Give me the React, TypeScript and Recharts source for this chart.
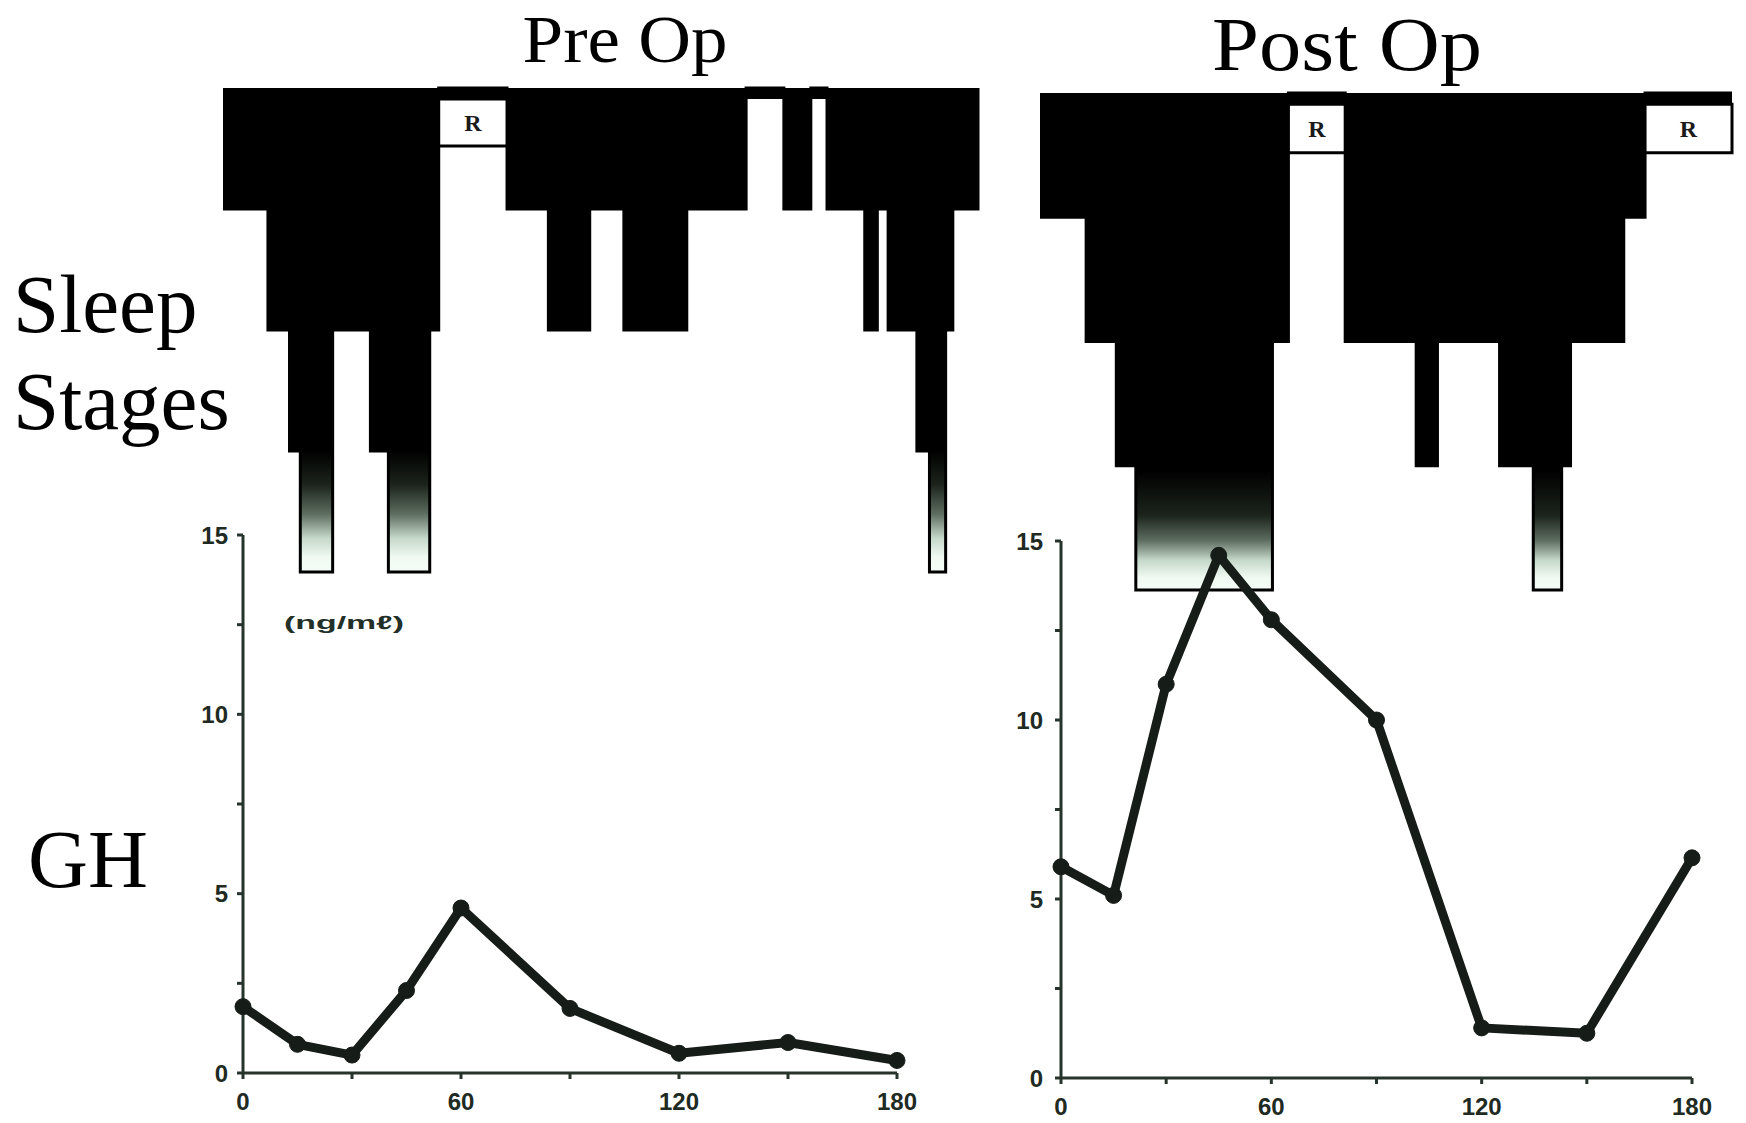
import React from 'react';
import { ComposedChart, LineChart, Line, Area, XAxis, YAxis, ReferenceArea } from 'recharts';

// ---- GH (growth hormone) samples, ng/ml ----
const ghTimes = [0, 15, 30, 45, 60, 90, 120, 150, 180];
const preGH = [1.85, 0.8, 0.5, 2.3, 4.6, 1.8, 0.55, 0.85, 0.35];
const postGH = [5.9, 5.1, 11.0, 14.6, 12.8, 10.0, 1.4, 1.25, 6.15];
const xTicks = [0, 30, 60, 90, 120, 150, 180];
const xTickLabels = [0, 60, 120, 180];
const yTicks = [0, 2.5, 5, 7.5, 10, 12.5, 15];
const yTickLabels = [0, 5, 10, 15];

// ---- Sleep stage hypnograms (minutes from start of record, stage code) ----
const preStageTimes = [0, 12.5, 18.5, 21.5, 30.5, 41, 46, 57.5, 60, 79, 90.5, 102, 111.5, 129, 145.5, 156, 163.5, 168, 178.5, 182, 185, 193, 196.5, 201, 203];
const preStages = ['1', '2', '3', '4', '2', '3', '4', '2', 'R', '1', '2', '1', '2', '1', 'W', '1', 'W', '1', '2', '1', '2', '3', '4', '2', '1'];
const preEnd = 210;

const postStageTimes = [0, 13, 21.5, 27, 65.5, 70, 86, 106, 112, 129.5, 139, 147, 149.5, 164.5, 170.5];
const postStages = ['1', '2', '3', '4', '2', 'R', '2', '3', '2', '3', '4', '3', '2', '1', 'R'];
const postEnd = 195;

const stageDepth: Record<string, number> = { W: 0, R: 0, '1': 1, '2': 2, '3': 3, '4': 4 };
const STRIP = 0.09;
const REM_DEPTH = 0.48;

const AXIS = '#26342c';
const INK = '#161c17';
const TICK_FONT = 'Liberation Sans, Arial, sans-serif';
const SERIF = 'Liberation Serif, Times New Roman, serif';

function buildRows(times: number[], stages: string[], end: number) {
  const rows = times.map((t, i) => ({ t, depth: stageDepth[stages[i]] }));
  rows.push({ t: end, depth: 0 });
  return rows;
}

function remSegments(times: number[], stages: string[], end: number) {
  const segs: { x1: number; x2: number }[] = [];
  stages.forEach((s, i) => {
    if (s === 'R') segs.push({ x1: times[i], x2: i + 1 < times.length ? times[i + 1] : end });
  });
  return segs;
}

type Stop = [number, string];

function Hypnogram(props: {
  left: number; top: number; width: number; height: number;
  times: number[]; stages: string[]; end: number; gradId: string; stops: Stop[];
}) {
  const { left, top, width, height, times, stages, end, gradId, stops } = props;
  const rows = buildRows(times, stages, end);
  const rems = remSegments(times, stages, end);
  return (
    <div style={{ position: 'absolute', left, top }}>
      <ComposedChart width={width} height={height} data={rows} margin={{ top: 4, right: 4, bottom: 4, left: 4 }}>
        <defs>
          <linearGradient id={gradId} x1="0" y1="0" x2="0" y2="1">
            {stops.map(([o, c], i) => (
              <stop key={i} offset={o} stopColor={c} stopOpacity={1} />
            ))}
          </linearGradient>
        </defs>
        <XAxis dataKey="t" type="number" domain={[0, end]} hide />
        <YAxis type="number" domain={[0, 4]} reversed hide />
        <Area
          type="stepAfter"
          dataKey="depth"
          baseValue={0}
          fill={`url(#${gradId})`}
          fillOpacity={1}
          stroke="#000"
          strokeWidth={3}
          dot={false}
          activeDot={false}
          isAnimationActive={false}
        />
        <ReferenceArea y1={0} y2={STRIP} fill="#000" fillOpacity={1} stroke="none" ifOverflow="visible" />
        {rems.map((r, i) => (
          <ReferenceArea
            key={i}
            x1={r.x1}
            x2={r.x2}
            y1={STRIP}
            y2={REM_DEPTH}
            fill="#ffffff"
            fillOpacity={1}
            stroke="#000"
            strokeWidth={3}
            ifOverflow="visible"
            label={{ value: 'R', position: 'center', fill: '#1a1a1a', fontSize: 24, fontWeight: 'bold', fontFamily: SERIF }}
          />
        ))}
      </ComposedChart>
    </div>
  );
}

function GHChart(props: { left: number; top: number; width: number; height: number; xAxisHeight: number; values: number[]; yTickMargin: number }) {
  const { left, top, width, height, xAxisHeight, values, yTickMargin } = props;
  const data = ghTimes.map((t, i) => ({ t, gh: values[i] }));
  return (
    <div style={{ position: 'absolute', left, top }}>
      <LineChart width={width} height={height} data={data} margin={{ top: 20, right: 20, bottom: 0, left: 0 }}>
        <XAxis
          dataKey="t"
          type="number"
          domain={[0, 180]}
          ticks={xTicks}
          interval={0}
          tickFormatter={(v: number) => (xTickLabels.includes(v) ? String(v) : '')}
          axisLine={{ stroke: AXIS, strokeWidth: 3 }}
          tickLine={{ stroke: AXIS, strokeWidth: 3 }}
          tickSize={6}
          tickMargin={14}
          height={xAxisHeight}
          tick={{ fontSize: 24, fontWeight: 'bold', fill: '#1e2a22', fontFamily: TICK_FONT }}
        />
        <YAxis
          type="number"
          domain={[0, 15]}
          ticks={yTicks}
          interval={0}
          tickFormatter={(v: number) => (yTickLabels.includes(v) ? String(v) : '')}
          axisLine={{ stroke: AXIS, strokeWidth: 3 }}
          tickLine={{ stroke: AXIS, strokeWidth: 3 }}
          tickSize={6}
          tickMargin={yTickMargin}
          width={60}
          tick={{ fontSize: 24, fontWeight: 'bold', fill: '#1e2a22', fontFamily: TICK_FONT }}
        />
        <Line
          type="linear"
          dataKey="gh"
          stroke={INK}
          strokeWidth={9}
          strokeLinejoin="round"
          dot={{ r: 8, fill: INK, stroke: INK, strokeWidth: 1 }}
          activeDot={false}
          isAnimationActive={false}
        />
      </LineChart>
    </div>
  );
}

const preStops: Stop[] = [
  [0, '#000000'], [0.75, '#000000'], [0.82, '#1c241c'], [0.88, '#5d6d60'], [0.93, '#c5d8c9'], [0.97, '#f0faf2'], [1, '#f4fcf6'],
];
const postStops: Stop[] = [
  [0, '#000000'], [0.76, '#000000'], [0.85, '#1c241c'], [0.9, '#5d6d60'], [0.94, '#c5d8c9'], [0.975, '#f0faf2'], [1, '#f4fcf6'],
];

export default function App() {
  return (
    <div style={{ position: 'absolute', left: 0, top: 0, width: 1746, height: 1123, overflow: 'hidden', background: '#ffffff' }}>
      <Hypnogram left={219} top={84} width={763} height={492} times={preStageTimes} stages={preStages} end={preEnd} gradId="preGrad" stops={preStops} />
      <Hypnogram left={1036} top={89} width={700} height={505} times={postStageTimes} stages={postStages} end={postEnd} gradId="postGrad" stops={postStops} />
      <GHChart left={183} top={515} width={734} height={608} xAxisHeight={50} values={preGH} yTickMargin={9} />
      <GHChart left={1001} top={521} width={711} height={602} xAxisHeight={45} values={postGH} yTickMargin={12} />
      <svg width={1746} height={1123} style={{ position: 'absolute', left: 0, top: 0, pointerEvents: 'none' }}>
        <text x={625} y={62} textAnchor="middle" fontFamily={SERIF} fontSize={68} textLength={205} lengthAdjust="spacingAndGlyphs" fill="#000">Pre Op</text>
        <text x={1347} y={70} textAnchor="middle" fontFamily={SERIF} fontSize={76} textLength={270} lengthAdjust="spacingAndGlyphs" fill="#000">Post Op</text>
        <text x={13} y={332} fontFamily={SERIF} fontSize={83} fill="#000">Sleep</text>
        <text x={13} y={429} fontFamily={SERIF} fontSize={83} fill="#000">Stages</text>
        <text x={28} y={887} fontFamily={SERIF} fontSize={83} fill="#000">GH</text>
        <text x={284} y={629} fontFamily={TICK_FONT} fontSize={19} fontWeight="bold" fill="#223028" textLength={120} lengthAdjust="spacingAndGlyphs">(ng/mℓ)</text>
      </svg>
    </div>
  );
}
